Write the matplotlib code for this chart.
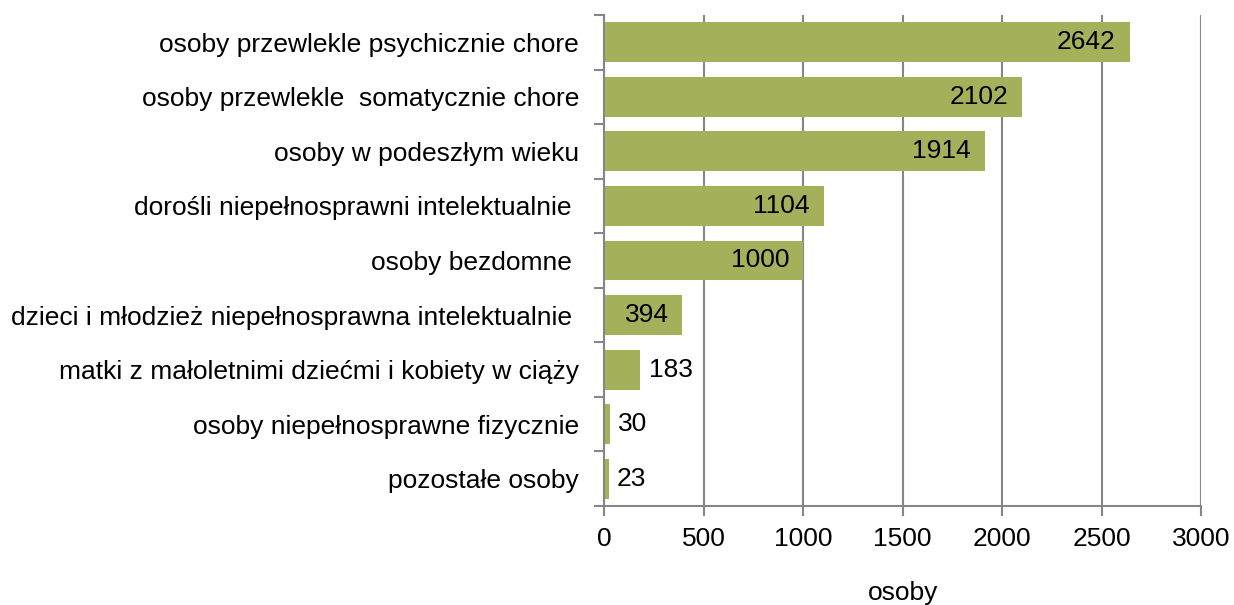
import matplotlib
matplotlib.use("Agg")
import matplotlib.pyplot as plt

categories = [
    "osoby przewlekle psychicznie chore",
    "osoby przewlekle  somatycznie chore",
    "osoby w podeszłym wieku",
    "dorośli niepełnosprawni intelektualnie ",
    "osoby bezdomne ",
    "dzieci i młodzież niepełnosprawna intelektualnie ",
    "matki z małoletnimi dziećmi i kobiety w ciąży",
    "osoby niepełnosprawne fizycznie",
    "pozostałe osoby",
]
values = [2642, 2102, 1914, 1104, 1000, 394, 183, 30, 23]
inside = [True, True, True, True, True, True, False, False, False]
xticks = [0, 500, 1000, 1500, 2000, 2500, 3000]
xlabel = "osoby"

plt.rcParams['font.family'] = ['Liberation Sans', 'DejaVu Sans']
fs = 19
fig = plt.figure(figsize=(12.34, 6.05), dpi=100)
ax = fig.add_axes([604/1234, 1-506/605, (1201-604)/1234, (506-15)/605])

grey = "#868686"
bar_color = "#A5B15A"
n = len(categories)
ypos = list(range(n))
ax.barh(ypos, values, height=0.73, color=bar_color, zorder=3)
ax.set_ylim(n - 0.5, -0.5)
ax.set_xlim(0, 3000)
ax.set_xticks(xticks)
ax.set_xticklabels([str(t) for t in xticks], fontsize=fs)
ax.set_yticks(ypos)
ax.set_yticklabels(categories, fontsize=fs)
ax.tick_params(axis='y', length=0, pad=18)
ax.tick_params(axis='x', length=7, width=1.5, color=grey, pad=8)
ax.set_yticks([i - 0.5 for i in range(n + 1)], minor=True)
ax.tick_params(axis='y', which='minor', length=7, width=1.5, color=grey)
ax.grid(axis='x', color=grey, linewidth=1.5, zorder=0)
for s in ['top', 'right']:
    ax.spines[s].set_visible(False)
for s in ['left', 'bottom']:
    ax.spines[s].set_color(grey)
    ax.spines[s].set_linewidth(1.5)
    ax.spines[s].set_zorder(4)

for y, v, ins in zip(ypos, values, inside):
    if ins:
        ax.annotate(str(v), (v, y), xytext=(-10, 0), textcoords='offset points',
                    ha='right', va='center', fontsize=fs, zorder=5)
    else:
        ax.annotate(str(v), (v, y), xytext=(6, 0), textcoords='offset points',
                    ha='left', va='center', fontsize=fs, zorder=5)

fig.text(903/1234, 1-593/605, xlabel, ha='center', va='center', fontsize=fs)
fig.savefig("out.png", dpi=100)
